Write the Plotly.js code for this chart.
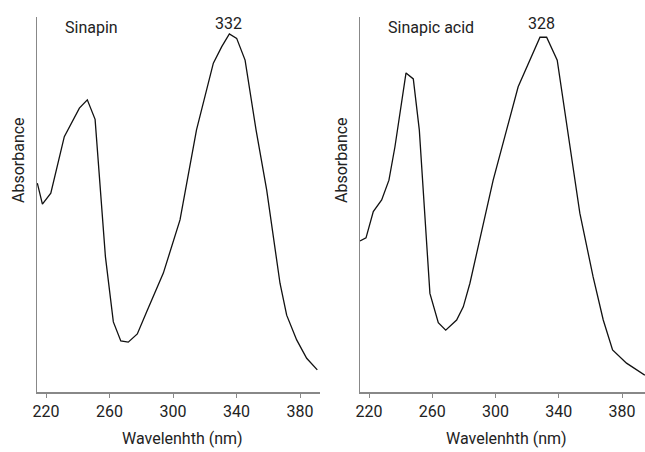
<!DOCTYPE html>
<html>
<head>
<meta charset="utf-8">
<script src="https://cdn.plot.ly/plotly-3.0.1.min.js"></script>
<style>html,body{margin:0;padding:0;background:#fff;}#chart{width:645px;height:452px;}</style>
</head>
<body>
<div id="chart"></div>
<script>
// Sinapin spectrum (wavelength nm, relative absorbance)
const sinapinWavelength = [214.5, 217.7, 223.0, 231.5, 241.0, 246.0, 250.9, 257.4, 262.4, 267.1, 271.8, 277.5, 283.4, 289.3, 293.9, 304.4, 314.8, 325.4, 330.7, 335.5, 340.1, 345.4, 352.3, 359.0, 363.6, 367.4, 371.6, 377.9, 384.2, 390.9];
const sinapinAbsorbance = [0.557, 0.501, 0.530, 0.681, 0.757, 0.779, 0.727, 0.361, 0.187, 0.136, 0.133, 0.155, 0.214, 0.272, 0.317, 0.459, 0.699, 0.877, 0.921, 0.955, 0.943, 0.885, 0.699, 0.539, 0.405, 0.290, 0.205, 0.139, 0.090, 0.059];
// Sinapic acid spectrum
const sinapicWavelength = [214.3, 218.1, 222.7, 228.0, 232.6, 236.4, 243.4, 248.0, 251.8, 258.5, 263.8, 268.5, 275.4, 279.6, 283.8, 298.5, 307.0, 314.3, 328.1, 332.3, 339.0, 345.3, 353.3, 361.7, 368.1, 374.0, 382.8, 394.4];
const sinapicAbsorbance = [0.403, 0.411, 0.481, 0.512, 0.565, 0.654, 0.851, 0.835, 0.699, 0.263, 0.185, 0.165, 0.192, 0.227, 0.290, 0.565, 0.699, 0.814, 0.946, 0.946, 0.885, 0.699, 0.477, 0.307, 0.192, 0.112, 0.077, 0.045];
const tickValues = [220, 260, 300, 340, 380];
const panelNames = ["Sinapin", "Sinapic acid"];
const peakLabels = ["332", "328"];
const peakPositions = [332, 328];
const xTitle = "Wavelenhth (nm)";
const yTitle = "Absorbance";

const FONT = "Roboto, Liberation Sans, sans-serif";
const FS = 16;
const W = 645, H = 452;
const px = v => v / W;
const py = v => (H - v) / H;

const traces = [
  {x: sinapinWavelength, y: sinapinAbsorbance, xaxis: 'x', yaxis: 'y', mode: 'lines', line: {color: '#111', width: 1.3}, hoverinfo: 'skip'},
  {x: sinapicWavelength, y: sinapicAbsorbance, xaxis: 'x2', yaxis: 'y2', mode: 'lines', line: {color: '#111', width: 1.3}, hoverinfo: 'skip'}
];

const xCommon = {
  tickvals: tickValues, ticktext: tickValues.map(String), ticks: 'outside', ticklen: 4, tickwidth: 1, tickcolor: '#888',
  showline: true, linecolor: '#888', linewidth: 1.5, showgrid: false, zeroline: false,
  tickfont: {family: FONT, size: FS, color: '#222'}
};
const yCommon = {
  range: [0, 1], showline: true, linecolor: '#888', linewidth: 1.5, showgrid: false, zeroline: false,
  showticklabels: false, ticks: ''
};

const annotations = [];
const panels = [
  {x0: 37, x1: 320, xa: 'x', ya: 'y'},
  {x0: 360, x1: 645, xa: 'x2', ya: 'y2'}
];
panels.forEach((p, i) => {
  annotations.push({xref: 'paper', yref: 'paper', x: px(p.x0 + 26), y: py(27), text: panelNames[i], showarrow: false, xanchor: 'left', yanchor: 'middle', font: {family: FONT, size: FS, color: '#222'}});
  annotations.push({xref: p.xa, yref: 'paper', x: peakPositions[i] + (i === 0 ? 3 : 1), y: py(23), text: peakLabels[i], showarrow: false, xanchor: 'center', yanchor: 'middle', font: {family: FONT, size: FS, color: '#222'}});
  annotations.push({xref: 'paper', yref: 'paper', x: px(p.x0 - 19), y: py(160), text: yTitle, showarrow: false, textangle: -90, xanchor: 'center', yanchor: 'middle', font: {family: FONT, size: FS, color: '#222'}});
  annotations.push({xref: 'paper', yref: 'paper', x: px((p.x0 + p.x1) / 2 + 4), y: py(438), text: xTitle, showarrow: false, xanchor: 'center', yanchor: 'middle', font: {family: FONT, size: FS, color: '#222'}});
});

const layout = {
  width: W, height: H, margin: {l: 0, r: 0, t: 0, b: 0}, paper_bgcolor: '#fff', plot_bgcolor: '#fff', showlegend: false,
  xaxis: Object.assign({}, xCommon, {domain: [px(37), px(320)], range: [214.3, 392.6], anchor: 'y'}),
  xaxis2: Object.assign({}, xCommon, {domain: [px(360), px(645)], range: [214.3, 394.5], anchor: 'y2'}),
  yaxis: Object.assign({}, yCommon, {domain: [py(392), py(17)], anchor: 'x'}),
  yaxis2: Object.assign({}, yCommon, {domain: [py(392), py(17)], anchor: 'x2'}),
  annotations: annotations
};

Plotly.newPlot('chart', traces, layout, {staticPlot: true, displayModeBar: false});
</script>
</body>
</html>
